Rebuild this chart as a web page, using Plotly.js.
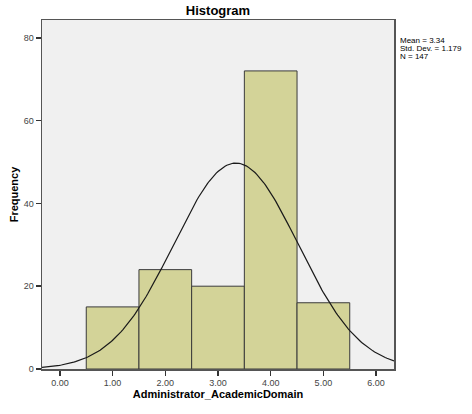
<!DOCTYPE html>
<html>
<head>
<meta charset="utf-8">
<script src="https://cdn.plot.ly/plotly-3.0.1.min.js"></script>
<style>html,body{margin:0;padding:0;background:#fff;}#chart{width:472px;height:414px;}</style>
</head>
<body>
<div id="chart"></div>
<script>
// Data
const binCenters = [1, 2, 3, 4, 5];
const frequencies = [15, 24, 20, 72, 16];
const binWidth = 1;
const meanValue = 3.34;
const stdDev = 1.179;
const nCount = 147;
const statsLines = ['Mean = 3.34', 'Std. Dev. = 1.179', 'N = 147'];
const xTickVals = [0, 1, 2, 3, 4, 5, 6];
const xTickText = ["0.00", "1.00", "2.00", "3.00", "4.00", "5.00", "6.00"];
const yTickVals = [0, 20, 40, 60, 80];

// Normal curve scaled to the histogram (from mean, sd, N shown on chart)
const xRange = [-0.34, 6.34];
const curveX = [];
const curveY = [];
for (let i = 0; i <= 200; i++) {
  const x = xRange[0] + (xRange[1] - xRange[0]) * i / 200;
  const z = (x - meanValue) / stdDev;
  curveX.push(x);
  curveY.push(nCount * binWidth * Math.exp(-0.5 * z * z) / (stdDev * Math.sqrt(2 * Math.PI)));
}

const traces = [
  {
    type: 'bar', x: binCenters, y: frequencies, width: binWidth,
    marker: {color: '#d3d398', line: {color: '#3a3a3a', width: 1}},
    hoverinfo: 'x+y'
  },
  {
    type: 'scatter', mode: 'lines', x: curveX, y: curveY,
    line: {color: '#1a1a1a', width: 1.2}, hoverinfo: 'skip'
  }
];

const statsY = [0.942, 0.918, 0.894];
const annotations = statsLines.map((t, i) => ({
  xref: 'paper', yref: 'paper', x: 1.012, y: statsY[i], xanchor: 'left', yanchor: 'middle',
  text: t, align: 'left', showarrow: false,
  font: {size: 8, color: '#000', family: 'Liberation Sans, Arial, sans-serif'}
}));

const layout = {
  width: 472, height: 414,
  margin: {l: 42, r: 78, t: 20, b: 45},
  paper_bgcolor: '#ffffff',
  plot_bgcolor: '#f0f0f0',
  showlegend: false,
  font: {family: 'Liberation Sans, Arial, sans-serif', color: '#000'},
  title: {text: '<b>Histogram</b>', x: 0.5, xref: 'paper', y: 0.985, yanchor: 'top',
          font: {size: 13, family: 'Liberation Sans, Arial, sans-serif', color: '#000'}},
  xaxis: {
    range: xRange, tickvals: xTickVals, ticktext: xTickText,
    ticks: 'outside', ticklen: 5, tickwidth: 1.5, tickcolor: '#333',
    showgrid: false, zeroline: false,
    showline: true, linecolor: '#555', linewidth: 1.5, mirror: true,
    tickfont: {size: 9, color: '#444'},
    title: {text: '<b>Administrator_AcademicDomain</b>', standoff: 3,
            font: {size: 11, color: '#000'}}
  },
  yaxis: {
    range: [0, 84.3], tickvals: yTickVals,
    ticks: 'outside', ticklen: 5, tickwidth: 1.5, tickcolor: '#333',
    showgrid: false, zeroline: false,
    showline: true, linecolor: '#555', linewidth: 1.5, mirror: true,
    tickfont: {size: 9, color: '#444'},
    title: {text: '<b>Frequency</b>', standoff: 3,
            font: {size: 11, color: '#000'}}
  },
  annotations: annotations
};

Plotly.newPlot('chart', traces, layout, {displayModeBar: false, staticPlot: true});
</script>
</body>
</html>
